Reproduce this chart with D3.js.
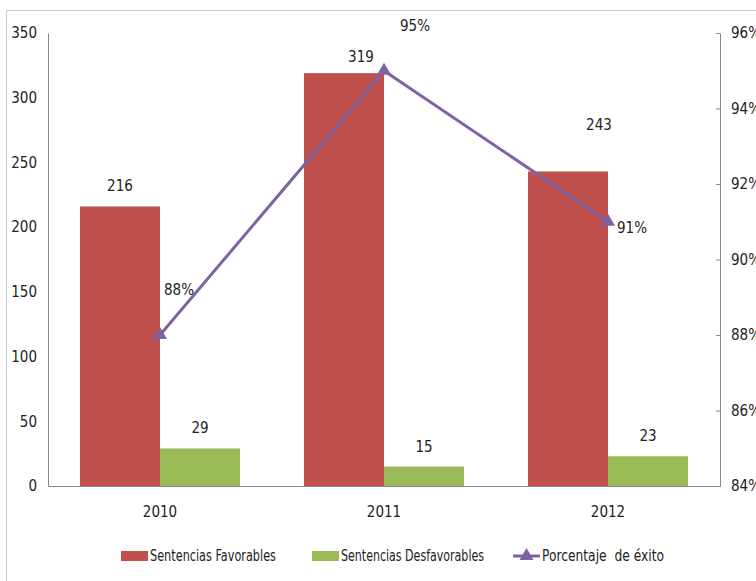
<!DOCTYPE html>
<html><head><meta charset="utf-8">
<script src="https://cdn.jsdelivr.net/npm/d3@7"></script>
<style>
html,body{margin:0;padding:0;background:#fff;}
svg text{font-family:"Liberation Sans Narrow","DejaVu Sans Condensed","DejaVu Sans",sans-serif;font-stretch:condensed;font-size:15px;fill:#222;}
</style></head>
<body>
<svg id="c" width="756" height="581"></svg>
<script>
const categories = ["2010", "2011", "2012"];
const favorables = [216, 319, 243];
const desfavorables = [29, 15, 23];
const porcentaje = [88, 95, 91];
const leftTicks = [0, 50, 100, 150, 200, 250, 300, 350];
const rightTicks = [84, 86, 88, 90, 92, 94, 96];
const seriesNames = ["Sentencias Favorables", "Sentencias Desfavorables", "Porcentaje  de éxito"];

const colors = {fav:"#C0504D", des:"#9BBB59", pct:"#7F63A1"};
const svg = d3.select("#c");
const M = {left:48, right:720, top:33, bottom:486};

// outer frame
svg.append("rect").attr("x",6.5).attr("y",10.5).attr("width",800).attr("height",700)
  .attr("fill","none").attr("stroke","#c8c8c8").attr("stroke-width",1);

const x0 = d3.scaleBand().domain(categories).range([M.left, M.right]).padding(0);
const x1 = d3.scaleBand().domain(["fav","des"]).range([0, x0.bandwidth()]).paddingInner(0).paddingOuter(0.4);
const yL = d3.scaleLinear().domain([0, 350]).range([M.bottom, M.top]);
const yR = d3.scaleLinear().domain([84, 96]).range([M.bottom, M.top]);

function clean(a){ a.attr("font-family",null).attr("font-size",null); a.selectAll("text").style("fill","#222"); a.select(".domain").attr("stroke","#868686"); }

// axes
svg.append("g").attr("transform",`translate(${M.left},0)`)
  .call(d3.axisLeft(yL).tickValues(leftTicks).tickSize(0).tickPadding(11).tickFormat(d3.format("d"))).call(clean);
const axR = svg.append("g").attr("transform",`translate(${M.right},0)`)
  .call(d3.axisRight(yR).tickValues(rightTicks).tickSize(0).tickPadding(11).tickFormat(d=>d+"%")).call(clean);
axR.selectAll(".tick").append("line").attr("x1",-4).attr("x2",0).attr("stroke","#868686");

const data = categories.map((c,i)=>({c, fav:favorables[i], des:desfavorables[i], pct:porcentaje[i]}));

// bars
const g = svg.append("g");
data.forEach(d=>{
  ["fav","des"].forEach(k=>{
    g.append("rect").attr("x", x0(d.c)+x1(k)).attr("width", x1.bandwidth())
      .attr("y", yL(d[k])).attr("height", yL(0)-yL(d[k])).attr("fill", colors[k]);
  });
});

// baseline + category labels
svg.append("g").attr("transform",`translate(0,${M.bottom})`)
  .call(d3.axisBottom(x0).tickSize(0).tickPadding(20)).call(clean);

// bar labels
const barLabelNudge = {fav:[[0,-15],[17,-11],[31,-41]], des:[[0,-15],[0,-15],[0,-15]]};
data.forEach((d,i)=>{
  ["fav","des"].forEach(k=>{
    const n = barLabelNudge[k][i];
    svg.append("text").attr("x", x0(d.c)+x1(k)+x1.bandwidth()/2+n[0]).attr("y", yL(d[k])+n[1])
      .attr("text-anchor","middle").text(d[k]);
  });
});

// line
const cx = d => x0(d.c)+x0.bandwidth()/2;
svg.append("path").datum(data)
  .attr("d", d3.line().x(cx).y(d=>yR(d.pct)))
  .attr("fill","none").attr("stroke",colors.pct).attr("stroke-width",3);
const tri = d3.symbol().type(d3.symbolTriangle).size(85);
svg.selectAll(".mk").data(data).enter().append("path")
  .attr("d", tri).attr("transform", d=>`translate(${cx(d)},${yR(d.pct)})`).attr("fill",colors.pct);
const pctNudge = [[19,-40],[31,-40],[24,11]];
data.forEach((d,i)=>{
  svg.append("text").attr("x", cx(d)+pctNudge[i][0]).attr("y", yR(d.pct)+pctNudge[i][1])
    .attr("text-anchor","middle").text(d.pct+"%");
});

// legend
const ly = 556;
const lg = svg.append("g");
const items = [{x:121, k:"fav", w:126},{x:312, k:"des", w:143},{x:513, k:"pct", w:122}];
items.forEach((it,i)=>{
  if (it.k==="pct") {
    lg.append("line").attr("x1",it.x).attr("x2",it.x+27).attr("y1",ly).attr("y2",ly).attr("stroke",colors.pct).attr("stroke-width",3);
    lg.append("path").attr("d", tri).attr("transform",`translate(${it.x+13.5},${ly})`).attr("fill",colors.pct);
  } else {
    lg.append("rect").attr("x",it.x).attr("y",ly-5).attr("width",27).attr("height",10).attr("fill",colors[it.k]);
  }
  lg.append("text").attr("x",it.x+29).attr("y",ly+5)
    .attr("textLength", it.w).attr("lengthAdjust","spacingAndGlyphs").style("white-space","pre").text(seriesNames[i]);
});
</script>
</body></html>
